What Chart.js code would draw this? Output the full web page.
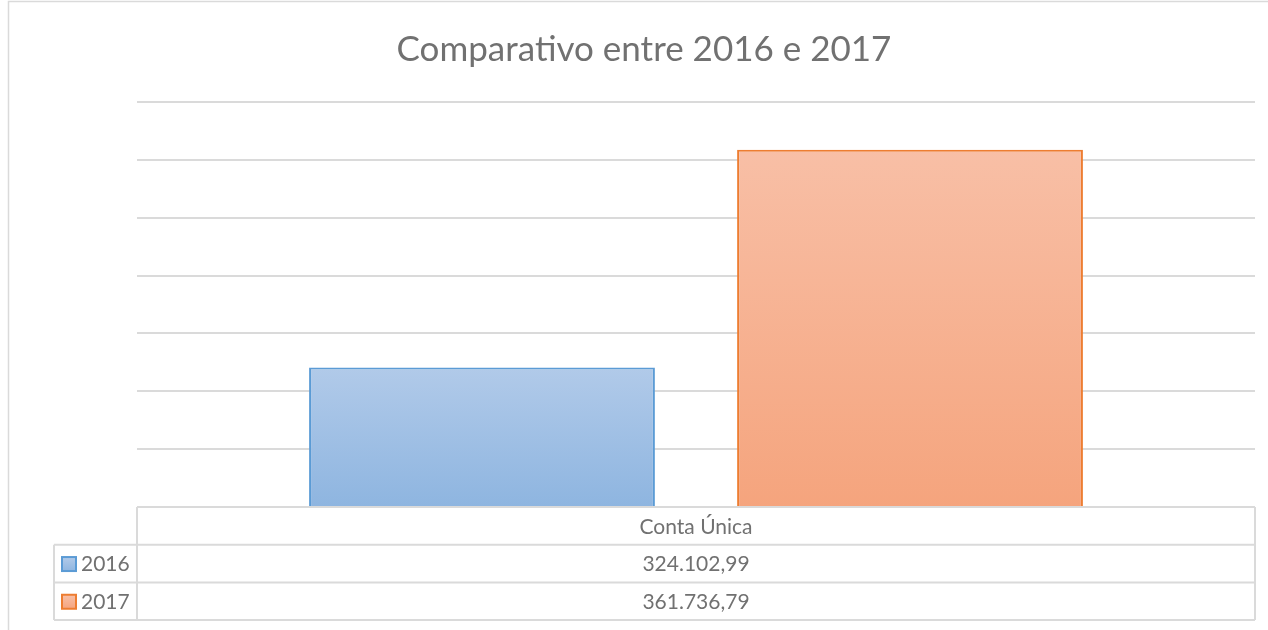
<!DOCTYPE html>
<html><head><meta charset="utf-8">
<script src="https://cdn.jsdelivr.net/npm/chart.js@4"></script>
<style>html,body{margin:0;padding:0;background:#fff;}#wrap{position:relative;width:1268px;height:630px;}</style>
</head><body><div id="wrap"><canvas id="c" width="1268" height="630"></canvas></div>
<script>
const chartTitle = 'Comparativo entre 2016 e 2017';
const categories = ['Conta Única'];
const seriesNames = ['2016', '2017'];
const values2016 = [324102.99];
const values2017 = [361736.79];
const valueLabels2016 = ['324.102,99'];
const valueLabels2017 = ['361.736,79'];
const axisMin = 300000;
const axisMax = 370000;
const axisStep = 10000;

const FONT = 'Lato, "Open Sans", sans-serif';
const TEXT = '#717171';
const LINE = '#dadada';

function grad(top, bottom) {
  return function (ctx) {
    const chart = ctx.chart, ca = chart.chartArea;
    if (!ca || ctx.type !== 'data') return top;
    const y = chart.scales.y.getPixelForValue(ctx.raw);
    const g = chart.ctx.createLinearGradient(0, y, 0, ca.bottom);
    g.addColorStop(0, top);
    g.addColorStop(1, bottom);
    return g;
  };
}

const seriesStyle = [
  { border: '#5B9BD5', top: '#B1CAE9', bottom: '#8EB5E0' },
  { border: '#ED7D31', top: '#F8BFA6', bottom: '#F5A47D' }
];
const seriesValues = [values2016, values2017];
const seriesLabels = [valueLabels2016, valueLabels2017];

const extras = {
  id: 'excelExtras',
  afterDraw(chart) {
    const c = chart.ctx, ca = chart.chartArea;
    c.save();
    // chart frame
    c.strokeStyle = LINE; c.lineWidth = 1.5;
    c.beginPath(); c.moveTo(8.5, 630); c.lineTo(8.5, 1.5); c.lineTo(1268, 1.5); c.stroke();
    // title
    c.fillStyle = TEXT; c.font = '35px ' + FONT; c.textAlign = 'center'; c.textBaseline = 'middle';
    c.fillText(chartTitle, 644, 50);
    // data table
    const rowH = 37.7, legendLeft = 54;
    const t = ca.bottom, L = ca.left, R = ca.right;
    c.strokeStyle = LINE; c.lineWidth = 2;
    c.beginPath();
    c.moveTo(L, t); c.lineTo(R, t);
    for (let i = 1; i <= 3; i++) { c.moveTo(legendLeft, t + rowH * i); c.lineTo(R, t + rowH * i); }
    c.moveTo(L, t); c.lineTo(L, t + rowH * 3);
    c.moveTo(R, t); c.lineTo(R, t + rowH * 3);
    c.moveTo(legendLeft, t + rowH); c.lineTo(legendLeft, t + rowH * 3);
    c.stroke();
    c.font = '21px ' + FONT; c.fillStyle = TEXT; c.textBaseline = 'middle';
    c.textAlign = 'center';
    c.fillText(categories[0], (L + R) / 2, t + rowH / 2 + 1);
    for (let s = 0; s < seriesNames.length; s++) {
      const cy = t + rowH * (s + 1.5) + 1;
      c.textAlign = 'center'; c.fillStyle = TEXT;
      c.fillText(seriesLabels[s][0], (L + R) / 2, cy);
      const st = seriesStyle[s];
      const g = c.createLinearGradient(0, cy - 7, 0, cy + 7);
      g.addColorStop(0, st.top); g.addColorStop(1, st.bottom);
      c.fillStyle = g; c.fillRect(62, cy - 7.5, 14, 14);
      c.strokeStyle = st.border; c.lineWidth = 2; c.strokeRect(62, cy - 7.5, 14, 14);
      c.fillStyle = TEXT; c.textAlign = 'left';
      c.fillText(seriesNames[s], 81, cy);
    }
    c.restore();
  }
};

new Chart(document.getElementById('c'), {
  type: 'bar',
  data: {
    labels: categories,
    datasets: seriesNames.map((n, i) => ({
      label: n,
      data: seriesValues[i],
      backgroundColor: grad(seriesStyle[i].top, seriesStyle[i].bottom),
      borderColor: seriesStyle[i].border,
      borderWidth: 2,
      borderSkipped: false,
      categoryPercentage: 0.7657,
      barPercentage: 0.808
    }))
  },
  options: {
    responsive: false,
    animation: false,
    layout: { padding: { left: 137, right: 13, top: 102, bottom: 123 } },
    plugins: { legend: { display: false }, title: { display: false }, tooltip: { enabled: false } },
    scales: {
      x: { display: false, grid: { display: false } },
      y: {
        min: axisMin, max: axisMax,
        ticks: { display: false, stepSize: axisStep },
        grid: { color: LINE, lineWidth: 2, drawTicks: false },
        border: { display: false }
      }
    }
  },
  plugins: [extras]
});
</script></body></html>
